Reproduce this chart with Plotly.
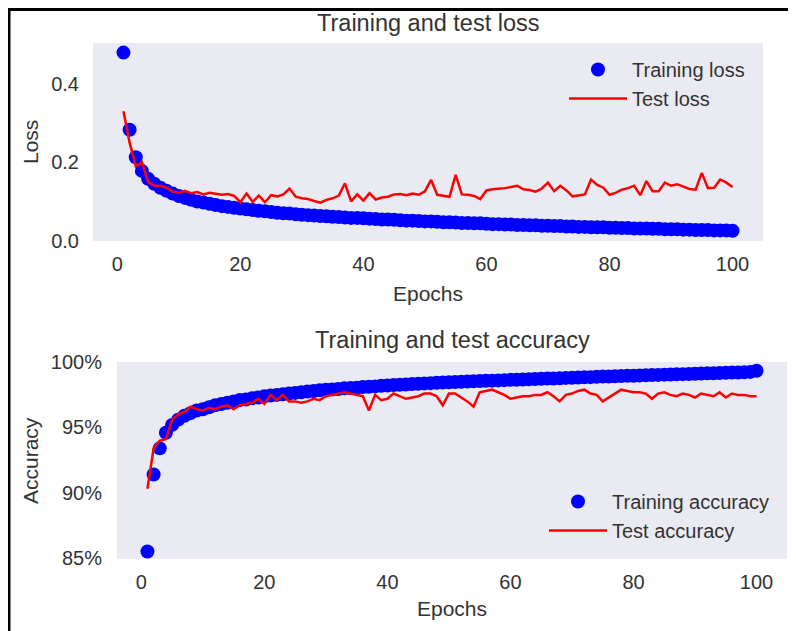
import plotly.graph_objects as go

# The page body adds an 8px offset; the figure is sized to fill the rest of the window.
OFF = 8
W, H = 796 - OFF, 631 - OFF

epochs = list(range(1, 101))

train_loss = [
    0.480, 0.283, 0.213, 0.178, 0.158, 0.145, 0.135, 0.127, 0.120, 0.114,
    0.109, 0.104, 0.100, 0.097, 0.094, 0.091, 0.088, 0.086, 0.084, 0.082,
    0.080, 0.078, 0.076, 0.075, 0.073, 0.071, 0.070, 0.069, 0.067, 0.066,
    0.065, 0.064, 0.063, 0.062, 0.061, 0.060, 0.059, 0.058, 0.058, 0.057,
    0.056, 0.055, 0.054, 0.054, 0.053, 0.052, 0.051, 0.051, 0.050, 0.049,
    0.049, 0.048, 0.047, 0.047, 0.046, 0.045, 0.045, 0.044, 0.044, 0.043,
    0.042, 0.042, 0.041, 0.041, 0.040, 0.040, 0.039, 0.039, 0.038, 0.038,
    0.037, 0.037, 0.036, 0.036, 0.035, 0.035, 0.034, 0.034, 0.034, 0.033,
    0.033, 0.032, 0.032, 0.031, 0.031, 0.031, 0.030, 0.030, 0.029, 0.029,
    0.029, 0.028, 0.028, 0.027, 0.027, 0.027, 0.026, 0.026, 0.026, 0.025,
]

test_loss = [
    0.330, 0.250, 0.190, 0.200, 0.150, 0.140, 0.140, 0.135, 0.125, 0.122,
    0.127, 0.121, 0.124, 0.118, 0.122, 0.120, 0.117, 0.119, 0.114, 0.098,
    0.120, 0.099, 0.115, 0.098, 0.116, 0.113, 0.118, 0.133, 0.112, 0.108,
    0.106, 0.101, 0.097, 0.104, 0.108, 0.115, 0.146, 0.100, 0.118, 0.102,
    0.121, 0.105, 0.110, 0.112, 0.118, 0.119, 0.116, 0.120, 0.117, 0.126,
    0.155, 0.117, 0.114, 0.112, 0.168, 0.118, 0.117, 0.114, 0.106, 0.128,
    0.131, 0.132, 0.134, 0.137, 0.140, 0.131, 0.129, 0.125, 0.133, 0.148,
    0.126, 0.140, 0.128, 0.113, 0.116, 0.118, 0.156, 0.142, 0.135, 0.117,
    0.122, 0.130, 0.134, 0.140, 0.116, 0.152, 0.126, 0.126, 0.148, 0.140,
    0.144, 0.138, 0.132, 0.130, 0.173, 0.134, 0.135, 0.156, 0.148, 0.137,
]

train_acc = [
    85.5, 91.4, 93.4, 94.6, 95.2, 95.6, 95.9, 96.1, 96.3, 96.4,
    96.55, 96.7, 96.8, 96.9, 97.0, 97.1, 97.15, 97.25, 97.3, 97.4,
    97.45, 97.5, 97.55, 97.6, 97.65, 97.7, 97.75, 97.8, 97.85, 97.9,
    97.92, 97.95, 98.0, 98.02, 98.05, 98.1, 98.12, 98.15, 98.2, 98.22,
    98.25, 98.28, 98.3, 98.33, 98.35, 98.38, 98.4, 98.42, 98.45, 98.47,
    98.49, 98.51, 98.52, 98.54, 98.56, 98.58, 98.59, 98.61, 98.63, 98.65,
    98.66, 98.68, 98.7, 98.71, 98.73, 98.75, 98.76, 98.78, 98.8, 98.81,
    98.83, 98.85, 98.86, 98.88, 98.9, 98.91, 98.93, 98.94, 98.96, 98.97,
    98.99, 99.0, 99.02, 99.03, 99.05, 99.06, 99.08, 99.09, 99.1, 99.12,
    99.13, 99.15, 99.16, 99.18, 99.19, 99.21, 99.22, 99.24, 99.26, 99.35,
]

test_acc = [
    90.3, 93.4, 94.0, 94.1, 95.6, 96.0, 96.2, 96.6, 96.4, 96.3,
    96.5, 96.4, 96.6, 96.7, 96.4, 96.7, 96.8, 96.9, 97.2, 96.8,
    97.5, 97.1, 97.5, 97.0, 97.0, 96.9, 97.0, 97.2, 97.1, 97.4,
    97.5, 97.6, 97.7, 97.6, 97.5, 97.4, 96.3, 97.5, 97.1, 97.2,
    97.6, 97.4, 97.2, 97.3, 97.4, 97.6, 97.6, 97.4, 96.7, 97.6,
    97.6, 97.3, 97.0, 96.6, 97.7, 97.8, 97.9, 97.7, 97.5, 97.2,
    97.3, 97.4, 97.4, 97.5, 97.5, 97.7, 97.4, 97.0, 97.5, 97.6,
    97.8, 97.9, 97.6, 97.5, 97.0, 97.3, 97.6, 97.9, 97.8, 97.7,
    97.7, 97.6, 97.2, 97.6, 97.7, 97.5, 97.4, 97.6, 97.5, 97.3,
    97.6, 97.5, 97.4, 97.7, 97.3, 97.6, 97.5, 97.5, 97.4, 97.4,
]

x_ticks = [0, 20, 40, 60, 80, 100]
loss_ticks = [0.0, 0.2, 0.4]
loss_tick_text = ["0.0", "0.2", "0.4"]
acc_ticks = [85, 90, 95, 100]
acc_tick_text = ["85%", "90%", "95%", "100%"]

FONT = "Liberation Sans, Arial, sans-serif"
TXT = "#333333"


def px(x):
    return (x - OFF) / W


def py(y):
    return 1 - (y - OFF) / H


fig = go.Figure()

fig.add_trace(go.Scatter(
    x=epochs, y=train_loss, mode="markers", name="Training loss",
    marker=dict(color="#0000FF", size=14, line=dict(width=0)),
    xaxis="x", yaxis="y", legend="legend",
))
fig.add_trace(go.Scatter(
    x=epochs, y=test_loss, mode="lines", name="Test loss",
    line=dict(color="#FF0000", width=2.5),
    xaxis="x", yaxis="y", legend="legend",
))
fig.add_trace(go.Scatter(
    x=epochs, y=train_acc, mode="markers", name="Training accuracy",
    marker=dict(color="#0000FF", size=14, line=dict(width=0)),
    xaxis="x2", yaxis="y2", legend="legend2",
))
fig.add_trace(go.Scatter(
    x=epochs, y=test_acc, mode="lines", name="Test accuracy",
    line=dict(color="#FF0000", width=2.5),
    xaxis="x2", yaxis="y2", legend="legend2",
))

axis_common = dict(
    showgrid=False, zeroline=False, showline=False,
    ticks="outside", tickcolor="rgba(0,0,0,0)",
    tickfont=dict(family=FONT, size=20, color=TXT),
    automargin=False,
)

legend_common = dict(
    xanchor="left", yanchor="top",
    bgcolor="rgba(0,0,0,0)", font=dict(family=FONT, size=20, color=TXT),
    itemwidth=58, tracegroupgap=0,
)

fig.update_layout(
    width=W, height=H,
    margin=dict(l=0, r=0, t=0, b=0),
    paper_bgcolor="white",
    plot_bgcolor="#EAEAF2",
    font=dict(family=FONT, color=TXT),
    xaxis=dict(domain=[px(93), px(763)], range=[-3.95, 104.95],
               tickvals=x_ticks, anchor="y", ticklen=5, **axis_common),
    yaxis=dict(domain=[py(241), py(43)], range=[-0.001, 0.5045],
               tickvals=loss_ticks, ticktext=loss_tick_text, anchor="x",
               ticklen=9, **axis_common),
    xaxis2=dict(domain=[px(117), px(787)], range=[-3.95, 104.95],
                tickvals=x_ticks, anchor="y2", ticklen=5, **axis_common),
    yaxis2=dict(domain=[py(559), py(362)], range=[84.92, 100.02],
                tickvals=acc_ticks, ticktext=acc_tick_text, anchor="x2",
                ticklen=10, **axis_common),
    legend=dict(x=px(564), y=py(50), **legend_common),
    legend2=dict(x=px(544), y=py(482), **legend_common),
    showlegend=True,
)

annots = [
    dict(text="Training and test loss", x=px(428), y=py(23), size=23.5, angle=0),
    dict(text="Epochs", x=px(428), y=py(293), size=21, angle=0),
    dict(text="Loss", x=px(31), y=py(142), size=21, angle=-90),
    dict(text="Training and test accuracy", x=px(452), y=py(340), size=23.5, angle=0),
    dict(text="Epochs", x=px(452), y=py(608), size=21, angle=0),
    dict(text="Accuracy", x=px(30), y=py(461), size=21, angle=-90),
]
for a in annots:
    fig.add_annotation(
        text=a["text"], x=a["x"], y=a["y"], xref="paper", yref="paper",
        xanchor="center", yanchor="middle", showarrow=False,
        textangle=a["angle"], font=dict(family=FONT, size=a["size"], color=TXT),
    )

# frame lines at the left and top of the screenshot
fig.add_shape(type="line", xref="paper", yref="paper",
              x0=px(9), x1=px(9), y0=0, y1=py(8),
              line=dict(color="black", width=3))
fig.add_shape(type="line", xref="paper", yref="paper",
              x0=px(8), x1=1, y0=py(9.5), y1=py(9.5),
              line=dict(color="black", width=3))

fig.write_html("out.html")
